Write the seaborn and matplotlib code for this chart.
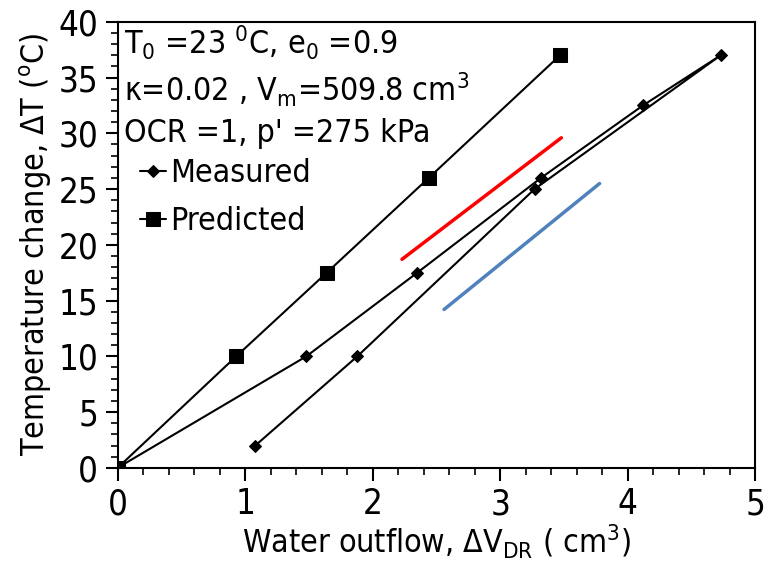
import matplotlib
matplotlib.use("Agg")
import matplotlib.pyplot as plt
import seaborn as sns
import pandas as pd
from matplotlib.ticker import MultipleLocator

# Data
meas_x = [0.0, 1.48, 2.35, 3.32, 4.12, 4.73, 3.27, 1.88, 1.08]
meas_y = [0.0, 10.0, 17.5, 26.0, 32.5, 37.0, 25.0, 10.0, 2.0]
pred_x = [0.0, 0.93, 1.64, 2.44, 3.47]
pred_y = [0.0, 10.0, 17.5, 26.0, 37.0]
red_x = [2.23, 3.48]
red_y = [18.7, 29.6]
blue_x = [2.56, 3.78]
blue_y = [14.2, 25.5]

sns.set_style("ticks")
plt.rcParams['font.family'] = ['DejaVu Sans']
plt.rcParams['font.stretch'] = 'condensed'
plt.rcParams['mathtext.fontset'] = 'custom'
plt.rcParams['mathtext.rm'] = 'DejaVu Sans:stretch=condensed'
plt.rcParams['mathtext.it'] = 'DejaVu Sans:stretch=condensed'
plt.rcParams['mathtext.sf'] = 'DejaVu Sans:stretch=condensed'
plt.rcParams['text.color'] = 'black'
plt.rcParams['axes.labelcolor'] = 'black'
plt.rcParams['xtick.color'] = 'black'
plt.rcParams['ytick.color'] = 'black'
plt.rcParams['axes.edgecolor'] = 'black'

fig = plt.figure(figsize=(7.69, 5.74), dpi=100)
ax = fig.add_axes([0.153, 0.185, 0.829, 0.777])

dm = pd.DataFrame({"x": meas_x, "y": meas_y})
dp = pd.DataFrame({"x": pred_x, "y": pred_y})
sns.lineplot(data=dm, x="x", y="y", sort=False, ax=ax, color="black", lw=1.5,
             marker="D", markersize=6, markeredgecolor="black", label="Measured",
             estimator=None)
sns.lineplot(data=dp, x="x", y="y", sort=False, ax=ax, color="black", lw=1.5,
             marker="s", markersize=10, markeredgecolor="black", label="Predicted",
             estimator=None)
sns.lineplot(x=red_x, y=red_y, ax=ax, color="#FF0000", lw=2.5, legend=False)
sns.lineplot(x=blue_x, y=blue_y, ax=ax, color="#4F81BD", lw=2.5, legend=False)

ax.set_xlim(0, 5)
ax.set_ylim(0, 40)
ax.xaxis.set_major_locator(MultipleLocator(1))
ax.xaxis.set_minor_locator(MultipleLocator(0.2))
ax.yaxis.set_major_locator(MultipleLocator(5))
ax.yaxis.set_minor_locator(MultipleLocator(1))
ax.tick_params(which='major', length=9, width=1.5, labelsize=25, direction='out', pad=5)
ax.tick_params(which='minor', length=5, width=1.2, direction='out')
for s in ax.spines.values():
    s.set_linewidth(1.5)
    s.set_visible(True)

ax.set_xlabel(r"Water outflow, $\Delta$V$_{\rm DR}$ ( cm$^{3}$)", fontsize=23, labelpad=1)
ax.set_ylabel(r"Temperature change, $\Delta$T ($^{\rm o}$C)", fontsize=23, labelpad=3)

ax.text(0.01, 0.995, r"T$_{\rm 0}$ =23 $^{\rm 0}$C, e$_{\rm 0}$ =0.9", transform=ax.transAxes,
        fontsize=23, va='top', ha='left')
ax.text(0.01, 0.89, r"$\kappa$=0.02 , V$_{\rm m}$=509.8 cm$^{\rm 3}$", transform=ax.transAxes,
        fontsize=23, va='top', ha='left')
ax.text(0.01, 0.785, r"OCR =1, p' =275 kPa", transform=ax.transAxes,
        fontsize=23, va='top', ha='left')

ax.legend(loc='upper left', bbox_to_anchor=(0.0, 0.745), frameon=False, fontsize=23,
          handlelength=0.8, handletextpad=0.15, labelspacing=0.55, borderaxespad=0.3)

fig.savefig("out.png", dpi=100)
